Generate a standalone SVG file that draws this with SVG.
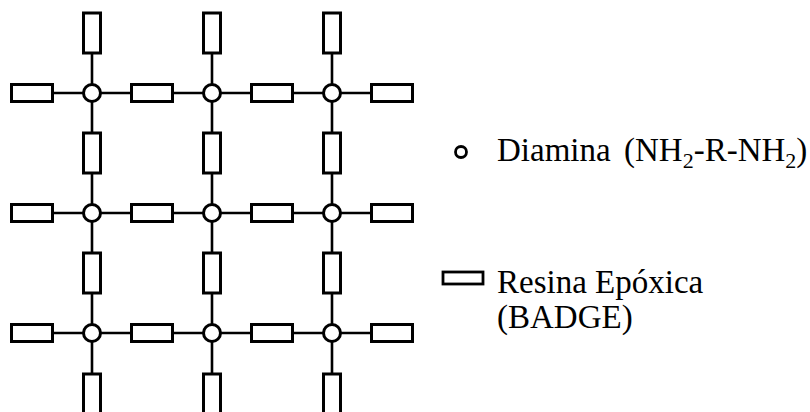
<svg xmlns="http://www.w3.org/2000/svg" width="810" height="412" viewBox="0 0 810 412">
  <style>
    .bond { stroke: #000; stroke-width: 2.6; fill: none; }
    .resin { fill: #fff; stroke: #000; stroke-width: 3; }
    .amine { fill: #fff; stroke: #000; stroke-width: 3; }
    .label { font-family: "Liberation Serif", "Times New Roman", serif; font-size: 33px; fill: #000; }
    .sub { font-size: 22px; }
  </style>
  <defs>
    <rect id="hres" x="-20.5" y="-8.5" width="41" height="17" class="resin"/>
    <rect id="vres" x="-8.5" y="-20" width="17" height="40" class="resin"/>
    <circle id="amine" r="8.5" class="amine"/>
  </defs>

  <!-- bonds of the network -->
  <g id="connectors">
    <line class="bond" x1="32" y1="93" x2="392" y2="93"/>
    <line class="bond" x1="32" y1="213" x2="392" y2="213"/>
    <line class="bond" x1="32" y1="333" x2="392" y2="333"/>
    <line class="bond" x1="92" y1="33" x2="92" y2="412"/>
    <line class="bond" x1="212" y1="33" x2="212" y2="412"/>
    <line class="bond" x1="332" y1="33" x2="332" y2="412"/>
  </g>

  <!-- epoxy resin units, horizontal -->
  <g id="resins-h">
    <use href="#hres" x="32" y="93"/><use href="#hres" x="152" y="93"/><use href="#hres" x="272" y="93"/><use href="#hres" x="392" y="93"/>
    <use href="#hres" x="32" y="213"/><use href="#hres" x="152" y="213"/><use href="#hres" x="272" y="213"/><use href="#hres" x="392" y="213"/>
    <use href="#hres" x="32" y="333"/><use href="#hres" x="152" y="333"/><use href="#hres" x="272" y="333"/><use href="#hres" x="392" y="333"/>
  </g>

  <!-- epoxy resin units, vertical -->
  <g id="resins-v">
    <use href="#vres" x="92" y="33"/><use href="#vres" x="92" y="153"/><use href="#vres" x="92" y="273"/><use href="#vres" x="92" y="394"/>
    <use href="#vres" x="212" y="33"/><use href="#vres" x="212" y="153"/><use href="#vres" x="212" y="273"/><use href="#vres" x="212" y="394"/>
    <use href="#vres" x="332" y="33"/><use href="#vres" x="332" y="153"/><use href="#vres" x="332" y="273"/><use href="#vres" x="332" y="394"/>
  </g>

  <!-- diamine crosslink nodes -->
  <g id="amines">
    <use href="#amine" x="92" y="93"/><use href="#amine" x="212" y="93"/><use href="#amine" x="332" y="93"/>
    <use href="#amine" x="92" y="213"/><use href="#amine" x="212" y="213"/><use href="#amine" x="332" y="213"/>
    <use href="#amine" x="92" y="333"/><use href="#amine" x="212" y="333"/><use href="#amine" x="332" y="333"/>
  </g>

  <!-- legend -->
  <g id="legend-amine">
    <circle cx="461" cy="152" r="5.5" fill="#fff" stroke="#000" stroke-width="2.8"/>
    <text class="label" x="497" y="161">Diamina<tspan x="624">(NH</tspan><tspan class="sub" dy="7">2</tspan><tspan dy="-7">-R-NH</tspan><tspan class="sub" dy="7">2</tspan><tspan dy="-7">)</tspan></text>
  </g>
  <g id="legend-resin">
    <rect x="443" y="272" width="40" height="12" fill="#fff" stroke="#000" stroke-width="2.8"/>
    <text class="label" x="497" y="293">Resina Epóxica</text>
    <text class="label" x="497" y="328">(BADGE)</text>
  </g>
</svg>
